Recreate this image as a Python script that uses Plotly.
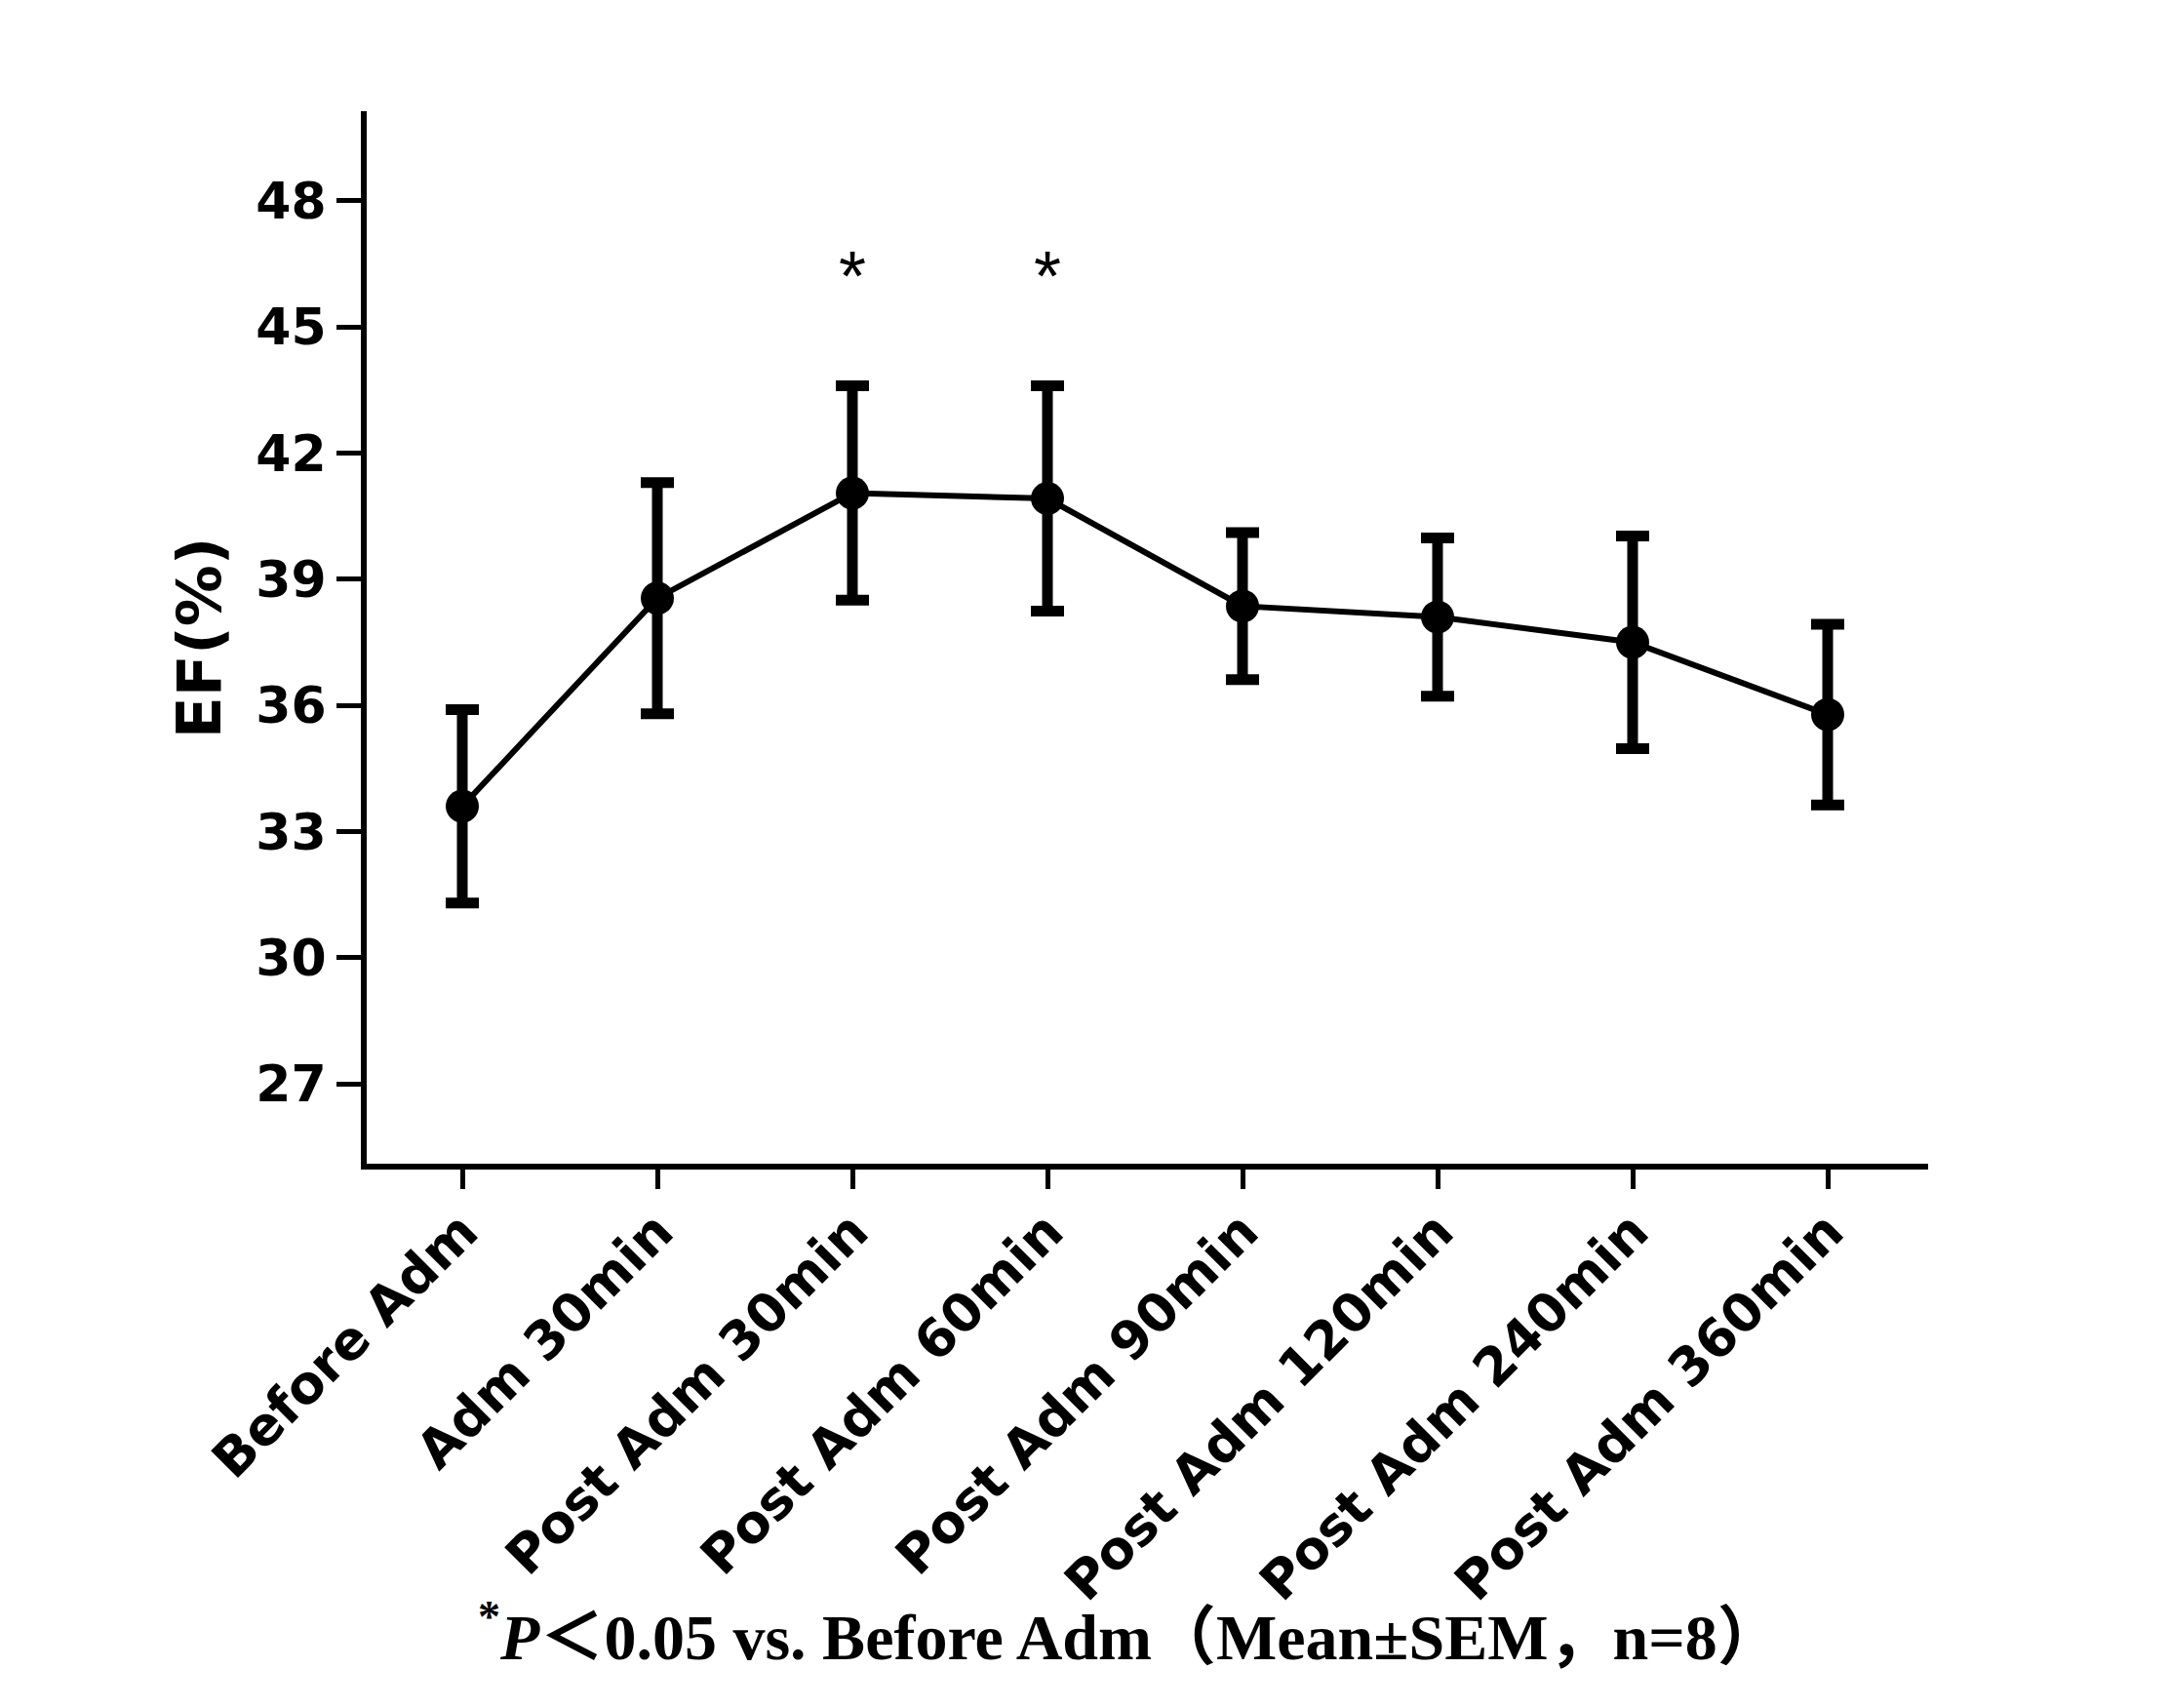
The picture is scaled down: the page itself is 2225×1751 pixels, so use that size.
import plotly.graph_objects as go

categories = ["Before Adm", "Adm 30min", "Post Adm 30min", "Post Adm 60min",
              "Post Adm 90min", "Post Adm 120min", "Post Adm 240min", "Post Adm 360min"]
ef_mean = [33.6, 38.55, 41.05, 40.92, 38.36, 38.1, 37.5, 35.78]
ef_sem = [2.3, 2.75, 2.55, 2.68, 1.75, 1.88, 2.53, 2.15]
sig_idx = [2, 3]
y_ticks = [27, 30, 33, 36, 39, 42, 45, 48]
star_y = 46.2

x_pos = list(range(len(categories)))

fig = go.Figure()
fig.add_trace(go.Scatter(
    x=x_pos, y=ef_mean,
    mode="lines+markers",
    line=dict(color="black", width=6),
    marker=dict(color="black", size=34, symbol="circle"),
    error_y=dict(type="data", array=ef_sem, visible=True, color="black",
                 thickness=11, width=17),
    showlegend=False,
))

for i in sig_idx:
    fig.add_annotation(x=x_pos[i], y=star_y, xref="x", yref="y", text="*",
                       showarrow=False, yanchor="middle",
                       font=dict(family="Liberation Sans", size=72, color="black"))

fig.add_annotation(x=-0.107, y=0.5, xref="paper", yref="paper", text="<b>EF(%)</b>",
                   textangle=-90, showarrow=False, xanchor="center", yanchor="middle",
                   font=dict(family="DejaVu Sans", size=63, color="black"))

fig.add_annotation(x=0.489, y=-0.445, xref="paper", yref="paper",
                   text="<b><sup>*</sup><i>P</i>＜0.05 vs. Before Adm（Mean±SEM，n=8）</b>",
                   showarrow=False, xanchor="center", yanchor="middle",
                   font=dict(family="Liberation Serif, Noto Sans CJK SC", size=66, color="black"))

fig.update_layout(
    width=2225, height=1751,
    margin=dict(l=368, r=256, t=106, b=566),
    paper_bgcolor="white", plot_bgcolor="white",
    font=dict(family="DejaVu Sans", color="black"),
)
fig.update_xaxes(
    range=[-0.49, 7.515], tickmode="array", tickvals=x_pos,
    ticktext=["<b>%s</b>" % c for c in categories],
    tickangle=-45, tickfont=dict(family="DejaVu Sans", size=54, color="black"),
    showline=True, linecolor="black", linewidth=6,
    ticks="outside", ticklen=20, tickwidth=5, tickcolor="black",
    ticklabelstandoff=-10,
    showgrid=False, zeroline=False,
)
fig.update_yaxes(
    range=[25.1, 50.13], tickmode="array", tickvals=y_ticks,
    ticktext=["<b>%d</b>" % v for v in y_ticks],
    tickfont=dict(family="DejaVu Sans", size=52, color="black"),
    showline=True, linecolor="black", linewidth=6,
    ticks="outside", ticklen=25, tickwidth=5, tickcolor="black",
    showgrid=False, zeroline=False,
)

fig.write_html("out.html")
